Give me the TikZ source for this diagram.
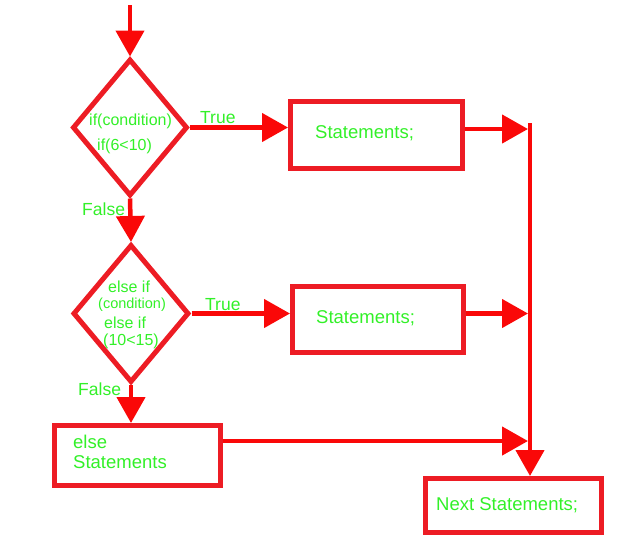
\documentclass[tikz,border=0pt]{standalone}
\usepackage{fontspec}
\setmainfont{Liberation Sans}
\usetikzlibrary{arrows.meta,shapes.geometric}
\definecolor{boxred}{RGB}{237,28,36}
\definecolor{arrred}{RGB}{250,8,8}
\definecolor{txtgreen}{RGB}{50,240,40}
\begin{document}
\begin{tikzpicture}[x=1pt,y=-1pt,
  box/.style={draw=boxred,line width=5pt,rectangle,inner sep=0pt},
  decision/.style={draw=boxred,line width=5pt,diamond,inner sep=0pt},
  flow/.style={draw=arrred,line width=4.5pt,-{Triangle[length=26pt,width=28pt]}},
  plain/.style={draw=arrred,line width=4.5pt},
  lbl/.style={text=txtgreen,inner sep=0pt,anchor=base west},
  big/.style={font=\fontsize{18.5}{20}\selectfont},
  mid/.style={font=\fontsize{17.5}{19}\selectfont},
  small/.style={font=\fontsize{16}{18}\selectfont},
  tiny/.style={font=\fontsize{14.5}{16}\selectfont}]
\useasboundingbox (0,0) rectangle (626,558);
% shapes
\node[decision,minimum width=115pt,minimum height=137pt] (d1) at (130,127.5) {};
\node[decision,minimum width=116pt,minimum height=138pt] (d2) at (131,313.5) {};
\node[box,minimum width=172pt,minimum height=67pt] (b1) at (376.5,135) {};
\node[box,minimum width=171pt,minimum height=66pt] (b2) at (378,319.5) {};
\node[box,minimum width=166pt,minimum height=60pt] (eb) at (137.5,455.5) {};
\node[box,minimum width=176pt,minimum height=54pt] (nb) at (513.5,505.5) {};
% texts
\node[lbl,small] (t1) at (89,125) {if(condition)};
\node[lbl,small] (t2) at (97,150) {if(6<10)};
\node[lbl,mid] (tr1) at (200,123) {True};
\node[lbl,mid] (f1) at (82,215) {False};
\node[lbl,small] (t3) at (108,292) {else if};
\node[lbl,tiny] (t4) at (98,308) {(condition)};
\node[lbl,small] (t5) at (104,328) {else if};
\node[lbl,small] (t6) at (103,345) {(10<15)};
\node[lbl,mid] (tr2) at (205,310) {True};
\node[lbl,mid] (f2) at (78,395) {False};
\node[lbl,big] (s1) at (315,138) {Statements;};
\node[lbl,big] (s2) at (316,323) {Statements;};
\node[lbl,big] (e1) at (73,448) {else};
\node[lbl,big] (e2) at (73,468) {Statements};
\node[lbl,big] (n1) at (436,510) {Next Statements;};
% connectors
\coordinate (start) at (130,5);
\coordinate (jtop) at (530,123);
\coordinate (j1) at (528,129);
\coordinate (j2) at (528,313.5);
\coordinate (j3) at (528,441);
\draw[flow] (start) -- (d1.north);
\draw[flow] (d1.east) -- (d1.east -| b1.west);
\draw[flow] (d1.south) -- (d2.north);
\draw[flow] (d2.east) -- (d2.east -| b2.west);
\draw[flow] (d2.south) -- (d2.south |- eb.north);
\draw[flow] (b1.east |- j1) -- (j1);
\draw[flow] (b2.east |- j2) -- (j2);
\draw[flow] (eb.east |- j3) -- (j3);
\draw[flow] (jtop) -- (jtop |- nb.north);
\end{tikzpicture}
\end{document}
